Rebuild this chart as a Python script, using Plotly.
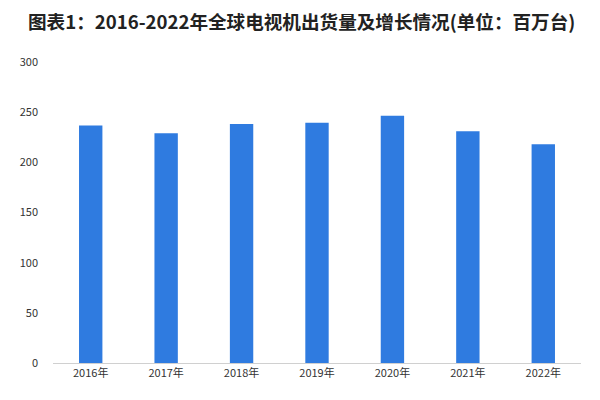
import plotly.graph_objects as go

years = ["2016年", "2017年", "2018年", "2019年", "2020年", "2021年", "2022年"]
shipments = [236.8, 228.9, 238.1, 239.4, 246.4, 231.1, 217.9]
y_ticks = [0, 50, 100, 150, 200, 250, 300]

fig = go.Figure(go.Bar(
    x=years, y=shipments,
    marker=dict(color="#2F7BE0", line=dict(width=0)),
    width=0.31,
))

# page body has an 8px default margin, so the figure fits inside 584x384
fig.update_layout(
    width=584, height=384,
    margin=dict(l=45, r=11, t=54, b=29),
    paper_bgcolor="white", plot_bgcolor="white",
    showlegend=False,
    font=dict(family="Noto Sans CJK SC", color="#333333", size=11),
    annotations=[dict(
        text="<b>图表1：2016-2022年全球电视机出货量及增长情况(单位：百万台)</b>",
        xref="paper", yref="paper", x=-0.0516, y=1 + 41.5 / 301,
        xanchor="left", yanchor="middle", showarrow=False,
        font=dict(family="Noto Sans CJK SC", size=18.6, color="#222222"),
    )],
    xaxis=dict(
        showgrid=False, showline=True, linecolor="#D0D0D0", linewidth=1,
        ticks="", tickfont=dict(size=11, color="#333333"),
    ),
    yaxis=dict(
        range=[0, 300], tickvals=y_ticks, showgrid=False, zeroline=False,
        showline=False, ticks="", ticklabelstandoff=14,
        tickfont=dict(size=11, color="#333333"),
    ),
)

fig.write_html("out.html")
